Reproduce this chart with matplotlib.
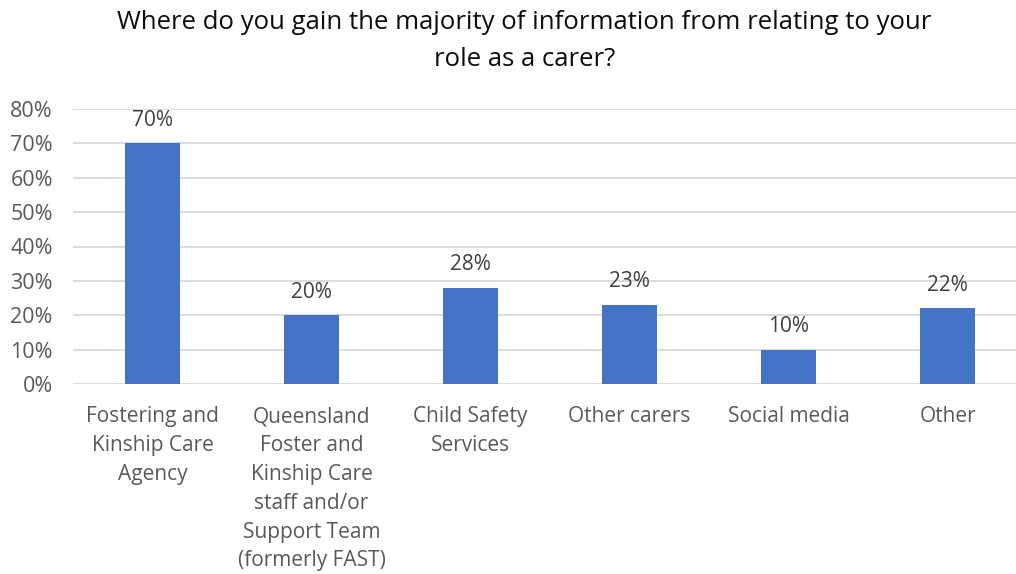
import matplotlib
matplotlib.use("Agg")
import matplotlib.pyplot as plt
from matplotlib.ticker import PercentFormatter

categories = [
    "Fostering and\nKinship Care\nAgency",
    "Queensland\nFoster and\nKinship Care\nstaff and/or\nSupport Team\n(formerly FAST)",
    "Child Safety\nServices",
    "Other carers",
    "Social media",
    "Other",
]
values = [70, 20, 28, 23, 10, 22]
labels = ["70%", "20%", "28%", "23%", "10%", "22%"]
yticks = [0, 10, 20, 30, 40, 50, 60, 70, 80]

plt.rcParams['font.family'] = ['Open Sans', 'DejaVu Sans']
grey = "#595959"

fig = plt.figure(figsize=(10.16, 5.74), dpi=100)
ax = fig.add_axes([73/1016, 1-384/574, 1-73/1016, (384-109)/574])

x = list(range(len(categories)))
bars = ax.bar(x, values, width=0.35, color="#4472C4", zorder=3)
for xi, v, lab in zip(x, values, labels):
    ax.annotate(lab, (xi, v), xytext=(0, 9), textcoords="offset points",
                ha="center", va="bottom", fontsize=15, color="#404040")

ax.set_xlim(-0.5, 5.43)
ax.set_ylim(0, 80)
ax.set_yticks(yticks)
ax.yaxis.set_major_formatter(PercentFormatter(decimals=0))
ax.set_xticks(x)
ax.set_xticklabels(categories, fontsize=15, color=grey, linespacing=1.49, va="top")
ax.tick_params(axis="y", labelsize=15.5, labelcolor=grey, length=0, pad=14.5)
ax.tick_params(axis="x", length=0, pad=16)
ax.grid(axis="y", color="#D9D9D9", linewidth=1.3, zorder=0)
for s in ax.spines.values():
    s.set_visible(False)

fig.text(0.516, 0.982, "Where do you gain the majority of information from relating to your\nrole as a carer?",
         ha="center", va="top", fontsize=18.5, color="#0d0d0d", linespacing=1.6)

fig.savefig("out.png", dpi=100)
